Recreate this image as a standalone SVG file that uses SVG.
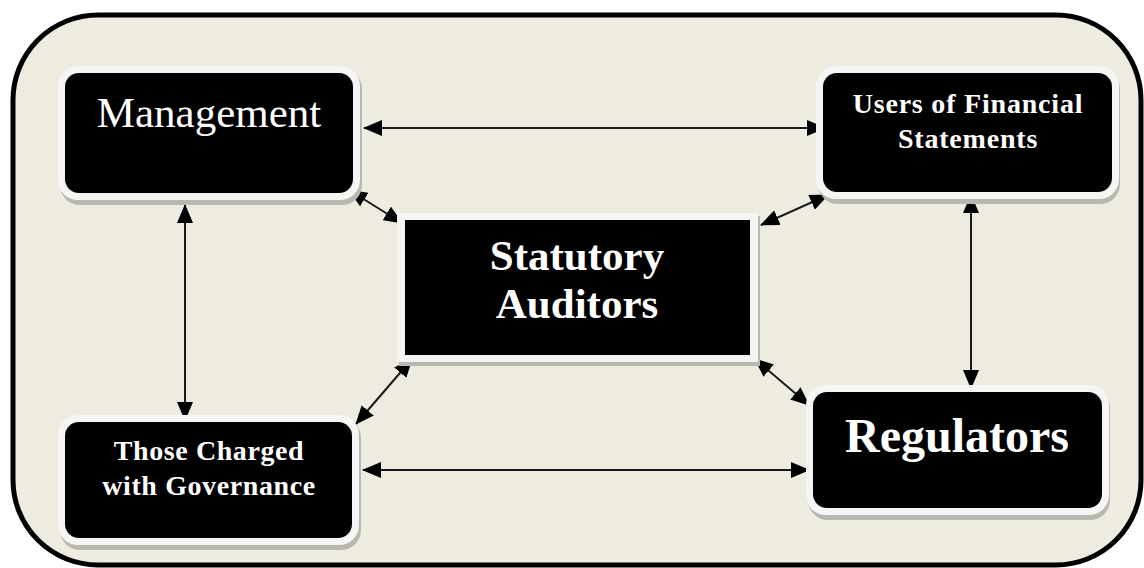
<svg xmlns="http://www.w3.org/2000/svg" width="1144" height="568" viewBox="0 0 1144 568">
<defs>
<marker id="ah" markerUnits="userSpaceOnUse" viewBox="0 0 19 16" markerWidth="19" markerHeight="16" refX="18" refY="8" orient="auto-start-reverse">
<path d="M0,0 L19,8 L0,16 z" fill="#000"/>
</marker>
<style>
.shadow{fill:#b9b8b0}
.halo{fill:#f5f5f3}
.box{fill:#000}
.conn line{stroke:#1a1a1a;stroke-width:2}
.t{font-family:"Liberation Serif","Times New Roman",serif;fill:#fff;text-anchor:middle}
.b{font-weight:bold}
</style>
</defs>
<rect x="0" y="0" width="1144" height="568" fill="#fff"/>
<rect x="13" y="15" width="1128" height="550" rx="85" ry="85" fill="#eeebe1" stroke="#000" stroke-width="5"/>

<g class="conn" id="connectors">
<line x1="364" y1="128" x2="825" y2="128" marker-start="url(#ah)" marker-end="url(#ah)"/>
<line x1="349" y1="190" x2="402" y2="223" marker-start="url(#ah)" marker-end="url(#ah)"/>
<line x1="828" y1="195" x2="761" y2="225" marker-start="url(#ah)" marker-end="url(#ah)"/>
<line x1="412" y1="359" x2="356" y2="424" marker-start="url(#ah)" marker-end="url(#ah)"/>
<line x1="755" y1="359" x2="809" y2="405" marker-start="url(#ah)" marker-end="url(#ah)"/>
<line x1="363" y1="470" x2="809" y2="470" marker-start="url(#ah)" marker-end="url(#ah)"/>
<line x1="185" y1="205" x2="185" y2="420" marker-start="url(#ah)" marker-end="url(#ah)"/>
<line x1="971" y1="195" x2="971" y2="388" marker-start="url(#ah)" marker-end="url(#ah)"/>
</g>

<g id="management">
<rect class="shadow" x="60" y="69" width="302" height="136" rx="20"/>
<rect class="halo" x="58" y="66" width="302" height="134" rx="20"/>
<rect class="box" x="65" y="73" width="288" height="120" rx="14"/>
<text class="t" x="209" y="127" font-size="43">Management</text>
</g>

<g id="users">
<rect class="shadow" x="818" y="69" width="302" height="135" rx="20"/>
<rect class="halo" x="816" y="66" width="303" height="133" rx="20"/>
<rect class="box" x="823" y="73" width="289" height="119" rx="14"/>
<text class="t b" x="968" y="113" font-size="28" letter-spacing="0.8">Users of Financial</text>
<text class="t b" x="968" y="148" font-size="28" letter-spacing="0.8">Statements</text>
</g>

<g id="auditors">
<rect class="shadow" x="399" y="216" width="361" height="150"/>
<rect class="halo" x="397" y="213" width="361" height="149"/>
<rect class="box" x="405" y="220" width="345" height="135"/>
<text class="t b" x="577" y="270" font-size="43">Statutory</text>
<text class="t b" x="577" y="318" font-size="43">Auditors</text>
</g>

<g id="governance">
<rect class="shadow" x="60" y="418" width="301" height="132" rx="20"/>
<rect class="halo" x="58" y="415" width="301" height="130" rx="20"/>
<rect class="box" x="65" y="422" width="287" height="116" rx="14"/>
<text class="t b" x="209" y="460" font-size="28" letter-spacing="0.6">Those Charged</text>
<text class="t b" x="209" y="495" font-size="28" letter-spacing="0.6">with Governance</text>
</g>

<g id="regulators">
<rect class="shadow" x="808" y="388" width="302" height="132" rx="20"/>
<rect class="halo" x="806" y="385" width="303" height="130" rx="20"/>
<rect class="box" x="813" y="392" width="289" height="116" rx="14"/>
<text class="t b" x="957" y="452" font-size="48">Regulators</text>
</g>
</svg>
